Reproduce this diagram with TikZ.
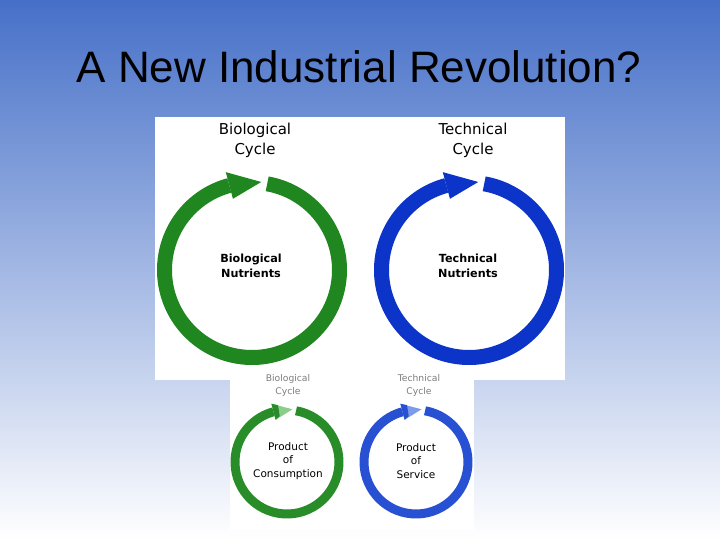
\documentclass[tikz,border=0pt]{standalone}
\usepackage{fontspec}
\setmainfont{Liberation Sans}
\newfontfamily\labelFont{DejaVu Sans}
\usetikzlibrary{positioning}
\definecolor{slideTop}{RGB}{70,112,200}
\definecolor{bioGreen}{RGB}{32,135,32}
\definecolor{techBlue}{RGB}{12,52,200}
\definecolor{bioGreenSmall}{RGB}{40,140,40}
\definecolor{bioGreenLight}{RGB}{140,205,140}
\definecolor{techBlueSmall}{RGB}{40,80,210}
\definecolor{techBlueLight}{RGB}{125,155,235}
\definecolor{captionGray}{RGB}{125,125,125}
\tikzstyle{slide} = [x = 1pt, y = 1pt]
\tikzstyle{panelStyle} = [fill=white, draw=none]
\tikzstyle{titleText} = [font=\fontsize{44}{50}\selectfont, anchor=base, inner sep=0]
\tikzstyle{cycleText} = [font=\labelFont\fontsize{15}{20}\selectfont, align=center, inner sep=0]
\tikzstyle{nutrientText} = [font=\labelFont\bfseries\fontsize{11.2}{15}\selectfont, align=center, inner sep=0]
\tikzstyle{smallCycleText} = [font=\labelFont\fontsize{9.2}{12.5}\selectfont, align=center, inner sep=0, color=captionGray]
\tikzstyle{productText} = [font=\labelFont\fontsize{10.5}{13.2}\selectfont, align=center, inner sep=0]
% ring: x, y, radius, width, ring colour, head colour
\newcommand{\cycleRing}[6]{
  \begin{scope}[shift={(#1,#2)}]
    \draw [#5, line width=#4pt] (80:#3) arc [start angle=80, end angle=-255, radius=#3];
    \fill [#6] (105:{#3+0.92*#4}) -- (84:{#3+1}) -- (105:{#3-0.92*#4}) -- cycle;
  \end{scope}
}
% ring with a pale head: x, y, radius, width, ring colour, head colour
\newcommand{\cycleRingPale}[6]{
  \cycleRing{#1}{#2}{#3}{#4}{#5}{#6}
  \begin{scope}[shift={(#1,#2)}]
    \fill [#5] (105:{#3+0.92*#4}) -- (99:{#3+0.62*#4}) -- (99:{#3-0.62*#4}) -- (105:{#3-0.92*#4}) -- cycle;
  \end{scope}
}

\begin{document}
\begin{tikzpicture}[slide]
  \useasboundingbox (0,0) rectangle (720,540);
  \shade [top color=slideTop, bottom color=white] (0,0) rectangle (720,540);
  \node [titleText] (title) at (359,457) {A New Industrial Revolution?};

  % panels
  \fill [panelStyle] (155,160) rectangle (565,423);
  \fill [panelStyle] (230,10) rectangle (474,161);

  % big cycles
  \cycleRing{252}{270}{87.5}{15}{bioGreen}{bioGreen}
  \cycleRing{469}{270}{87.5}{15}{techBlue}{techBlue}
  \node [cycleText] (bioCycle) at (255,400) {Biological\\Cycle};
  \node [cycleText] (techCycle) at (473,400) {Technical\\Cycle};
  \node [nutrientText] (bioNutrients) at (251,274.5) {Biological\\Nutrients};
  \node [nutrientText] (techNutrients) at (468,274.5) {Technical\\Nutrients};

  % small cycles
  \cycleRingPale{287}{78}{52}{9}{bioGreenSmall}{bioGreenLight}
  \cycleRingPale{416}{78}{52}{9}{techBlueSmall}{techBlueLight}
  \node [smallCycleText] (bioCycleSmall) at (288,154.5) {Biological\\Cycle};
  \node [smallCycleText] (techCycleSmall) at (419,154.5) {Technical\\Cycle};
  \node [productText] (consumption) at (288,79) {Product\\of\\Consumption};
  \node [productText] (service) at (416,79) {Product\\of\\Service};
\end{tikzpicture}
\end{document}
